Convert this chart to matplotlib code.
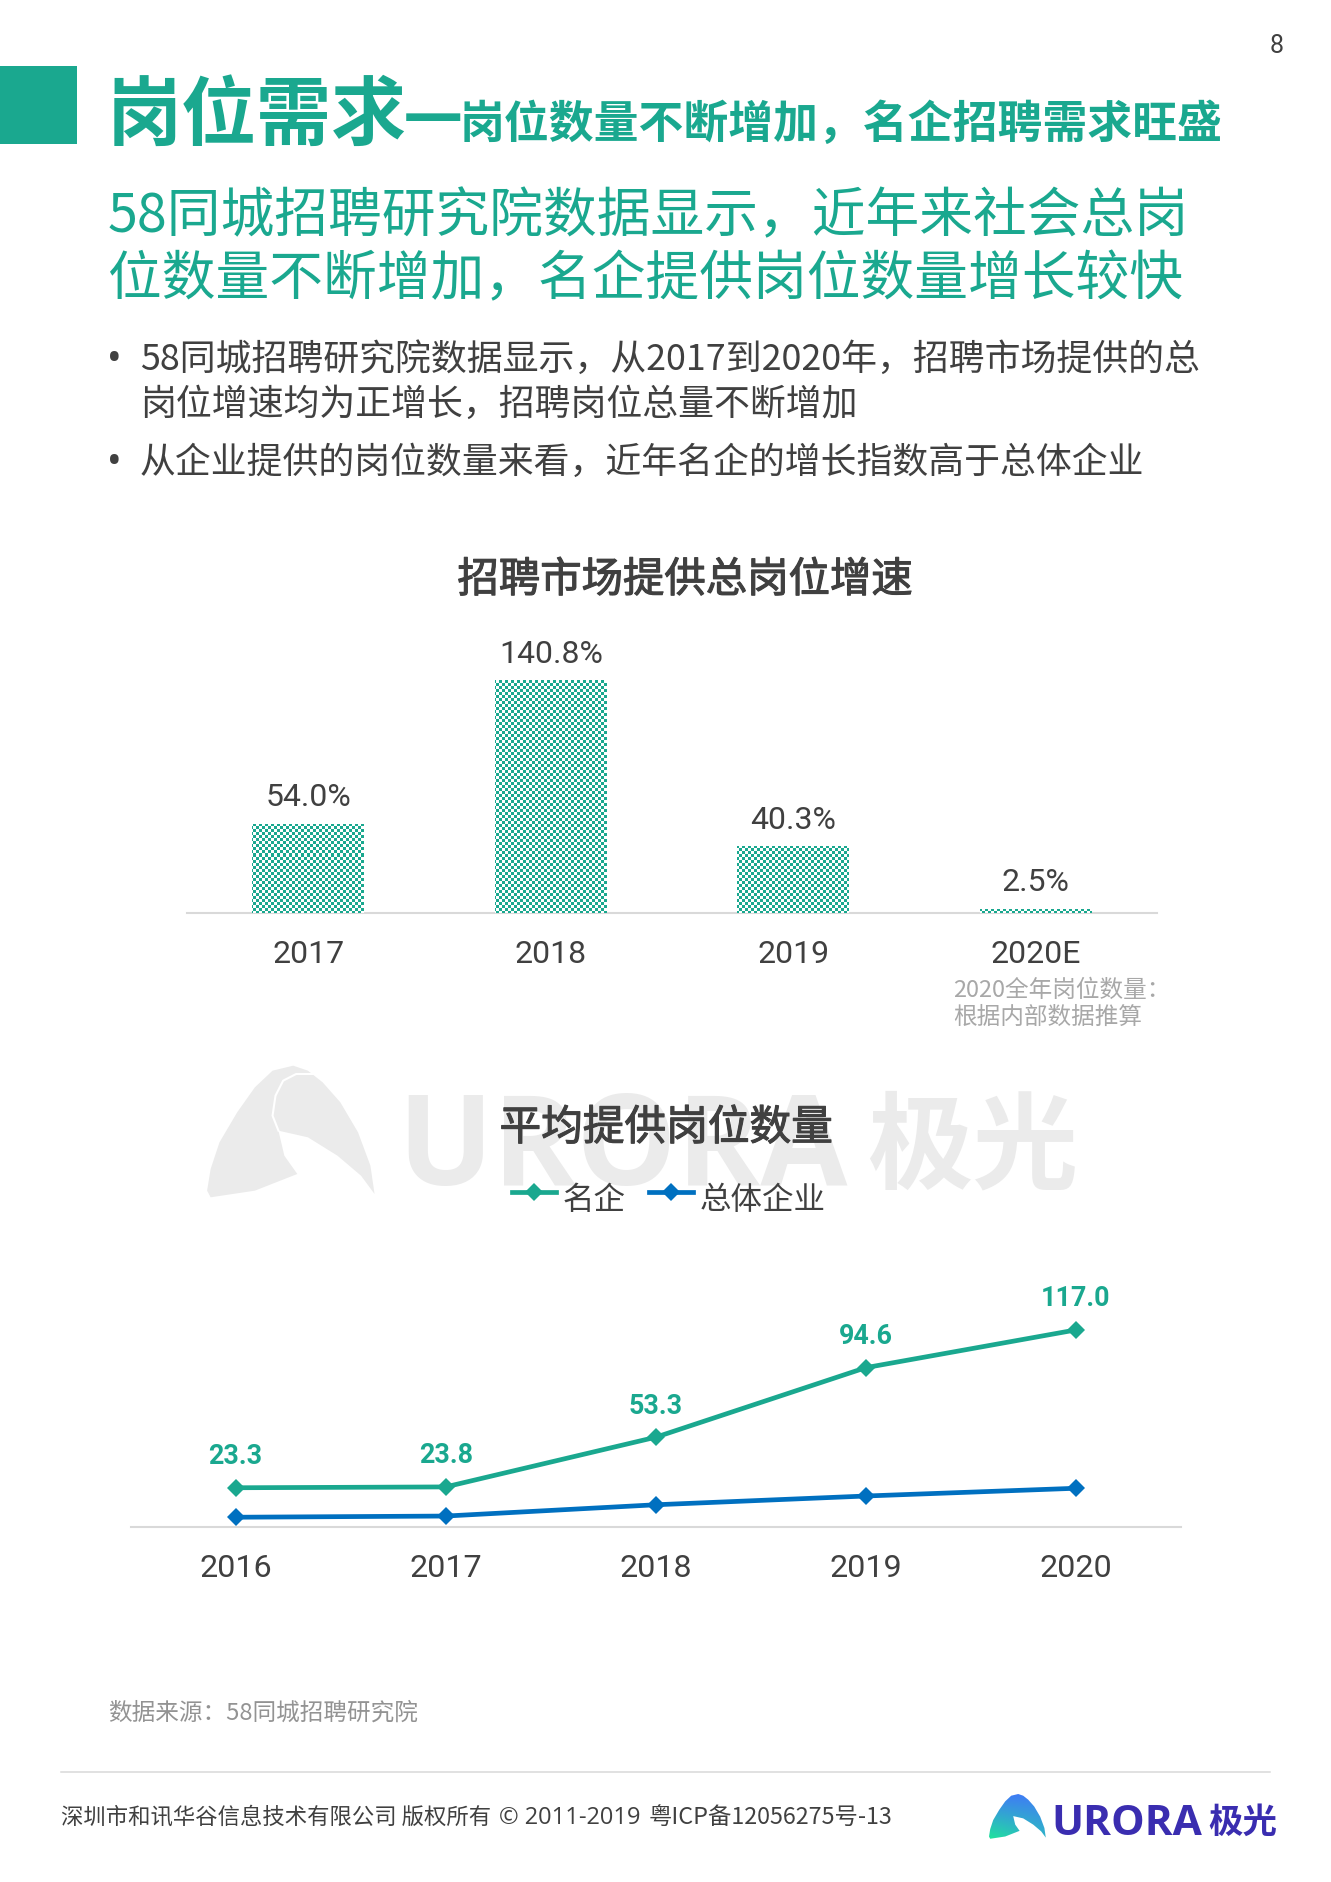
import numpy as np
import matplotlib
matplotlib.use("Agg")
import matplotlib.pyplot as plt
import matplotlib.patheffects as pe
from matplotlib.patches import Polygon, Rectangle
from matplotlib.colors import LinearSegmentedColormap
from matplotlib.legend_handler import HandlerLine2D

# ---- data ----
growth_years = ["2017", "2018", "2019", "2020E"]
growth_values = [54.0, 140.8, 40.3, 2.5]
line_years = ["2016", "2017", "2018", "2019", "2020"]
famous_values = [23.3, 23.8, 53.3, 94.6, 117.0]
overall_values = [5.8, 6.5, 13.2, 18.4, 23.0]
series_names = ["名企", "总体企业"]

GREEN = "#1AA88F"
BLUE = "#0070C0"
DARK = "#404040"
AXIS = "#D9D9D9"
CJK = ["Noto Sans CJK SC", "DejaVu Sans"]
NUM = ["Roboto", "DejaVu Sans"]

W, H = 1331, 1883
fig = plt.figure(figsize=(W / 100, H / 100), dpi=100, facecolor="white")

# full-page layer in pixel coordinates
bg = fig.add_axes([0, 0, 1, 1], zorder=0)
bg.set_xlim(0, W)
bg.set_ylim(H, 0)
bg.axis("off")
bg.set_autoscale_on(False)


def T(x, y, s, size, color=DARK, weight="normal", ha="left", family=CJK, zorder=5, **kw):
    return bg.text(x, y, s, fontsize=size, color=color, fontweight=weight, ha=ha,
                   va="baseline", family=family, zorder=zorder, **kw)


def px_axes(left, right, top, bottom):
    return fig.add_axes([left / W, 1 - bottom / H, (right - left) / W, (bottom - top) / H],
                        zorder=2, facecolor="none")


medium = [pe.withStroke(linewidth=0.8, foreground=DARK)]

# ---- header ----
bg.add_patch(Rectangle((0, 67), 77, 78, color=GREEN, lw=0))
T(1276.5, 53, "8", 18, ha="center", family=NUM)
T(106.5, 138.5, "岗位需求", 54, GREEN, "bold")
T(432.5, 140, "一", 42, GREEN, "bold", ha="center")
T(460, 138, "岗位数量不断增加，名企招聘需求旺盛", 32.3, GREEN, "bold")
T(107.6, 232, "58同城招聘研究院数据显示，近年来社会总岗", 38.7, GREEN)
T(107.6, 295, "位数量不断增加，名企提供岗位数量增长较快", 38.7, GREEN)
T(140, 370, "58同城招聘研究院数据显示，从2017到2020年，招聘市场提供的总", 25.85)
T(140, 415, "岗位增速均为正增长，招聘岗位总量不断增加", 25.85)
T(140, 473, "从企业提供的岗位数量来看，近年名企的增长指数高于总体企业", 25.8)
for yy in (370, 473):
    T(114, yy, "•", 28, ha="center", family=["Noto Sans"])

# ---- watermark ----
def logo_pts(x0, y0, sx, sy):
    raw = [(35, 415), (110, 395), (182, 345), (160, 290), (150, 215), (200, 235), (250, 290),
           (290, 350), (313, 405), (306, 320), (285, 220), (255, 130), (225, 70), (200, 35),
           (175, 20), (140, 35), (110, 85), (80, 160), (50, 250), (35, 330), (29, 395)]
    return [(x0 + a * sx, y0 + b * sy) for a, b in raw]


WM = "#EBEBEB"
bg.add_patch(Polygon(logo_pts(190, 1060, 1 / 1.696, 1 / 3), closed=True, color=WM, lw=0, zorder=1))
arc = [(210, 45), (180, 45), (158, 65), (145, 110), (140, 170), (150, 215)]
bg.plot([190 + a / 1.696 for a, b in arc], [1060 + b / 3 for a, b in arc], color="white", lw=1.5, zorder=1.5)
T(397, 1185, "URORA", 91, WM, "bold", family=["Open Sans"], zorder=1)
T(867, 1180, "极光", 76, WM, "bold", zorder=1)

# ---- bar chart ----
T(685, 593, "招聘市场提供总岗位增速", 29.8, ha="center", path_effects=medium)
ax1 = px_axes(187, 1157, 600, 914)
xb = np.arange(len(growth_values))
bars = ax1.bar(xb, growth_values, width=0.46, color=GREEN, lw=0, zorder=2)
yy_px, xx_px = np.mgrid[0:314, 0:970]
cells = ((xx_px // 3 + yy_px // 3) % 2).astype(float)
texture = LinearSegmentedColormap.from_list("chk", ["white", GREEN])
for b in bars:
    im = ax1.imshow(cells, cmap=texture, vmin=0, vmax=1, extent=(-0.5, 3.5, 0, 190),
                    aspect="auto", interpolation="nearest", zorder=3)
    im.set_clip_path(b)
ax1.set_xlim(-0.5, 3.5)
ax1.set_ylim(0, 190)
ax1.set_xticks(xb, growth_years, fontsize=23, color=DARK, family=NUM)
ax1.set_yticks([])
ax1.tick_params(axis="x", length=0, pad=18.5)
for s in ("top", "left", "right"):
    ax1.spines[s].set_visible(False)
ax1.spines["bottom"].set_color(AXIS)
ax1.spines["bottom"].set_linewidth(1.5)
for i, v in zip(xb, growth_values):
    ax1.annotate(f"{v:.1f}%", (i, v), xytext=(0, 13.4), textcoords="offset points",
                 ha="center", va="baseline", fontsize=23, color=DARK, family=NUM)
T(953, 997, "2020全年岗位数量：", 17, "#A8A8A8")
T(953, 1024, "根据内部数据推算", 17, "#A8A8A8")

# ---- line chart ----
T(666, 1141, "平均提供岗位数量", 30, ha="center", path_effects=medium)
ax2 = px_axes(130.5, 1181, 1228, 1528)
xl = np.arange(len(line_years))
ln1, = ax2.plot(xl, famous_values, color=GREEN, lw=3.4, marker="D", ms=9.5, mew=0, label=series_names[0], zorder=3)
ln2, = ax2.plot(xl, overall_values, color=BLUE, lw=3.4, marker="D", ms=9.5, mew=0, label=series_names[1], zorder=3)
ax2.set_xlim(-0.5, 4.5)
ax2.set_ylim(0, 178.1)
ax2.set_xticks(xl, line_years, fontsize=23.2, color=DARK, family=NUM)
ax2.set_yticks([])
ax2.tick_params(axis="x", length=0, pad=18.6)
for s in ("top", "left", "right"):
    ax2.spines[s].set_visible(False)
ax2.spines["bottom"].set_color(AXIS)
ax2.spines["bottom"].set_linewidth(1.5)
for i, v in zip(xl, famous_values):
    ax2.annotate(f"{v:.1f}", (i, v), xytext=(0, 17.6), textcoords="offset points",
                 ha="center", va="baseline", fontsize=19.4, color=GREEN, fontweight="bold", family=NUM)


class RaisedLine(HandlerLine2D):
    def create_artists(self, *args, **kwargs):
        artists = super().create_artists(*args, **kwargs)
        for a in artists:
            a.set_ydata(np.asarray(a.get_ydata()) + 3.6)
        return artists


leg = fig.legend(handles=[ln1, ln2], loc="center", bbox_to_anchor=(669 / W, 1 - 1200 / H),
                 ncol=2, frameon=False, handlelength=1.4, handletextpad=0.2, columnspacing=0.75,
                 prop={"family": CJK, "size": 22.7}, labelcolor=DARK, borderpad=0, borderaxespad=0,
                 handler_map={ln1: RaisedLine(), ln2: RaisedLine()})

# ---- footer ----
T(108, 1720, "数据来源：58同城招聘研究院", 17, "#939393")
bg.plot([61, 1270], [1773, 1773], color=AXIS, lw=1.1, zorder=1)
T(61, 1824, "深圳市和讯华谷信息技术有限公司 版权所有", 16.1)
T(499, 1824, "© 2011-2019", 17, family=["Open Sans"])
T(649, 1824, "粤ICP备12056275号-13", 16.8)

grad = np.zeros((40, 40, 3))
top_left = np.array([0x3F, 0x7C, 0xF5]) / 255
bottom_left = np.array([0x1F, 0xE3, 0x9C]) / 255
right = np.array([0x2F, 0xB5, 0xC8]) / 255
for r in range(40):
    for c in range(40):
        u, v = c / 39, r / 39
        grad[r, c] = (1 - v) * top_left + v * ((1 - u) * bottom_left + u * right)
logo_img = bg.imshow(grad, extent=(989, 1046, 1840, 1795), aspect="auto", zorder=3, interpolation="bilinear")
sc_x, sc_y = (1046 - 989) / 285, (1840 - 1795) / 397
clip = Polygon([(989 - 29 * sc_x + a * sc_x, 1795 - 20 * sc_y + b * sc_y)
                for a, b in [((p[0] - 190) * 1.696, (p[1] - 1060) * 3) for p in logo_pts(190, 1060, 1 / 1.696, 1 / 3)]],
               closed=True, transform=bg.transData, fc="none", lw=0)
bg.add_patch(clip)
logo_img.set_clip_path(clip)
bg.set_xlim(0, W)
bg.set_ylim(H, 0)
T(1051, 1835, "URORA", 30.5, "#3A2DB0", "bold", family=["Open Sans"])
T(1208, 1833, "极光", 24.8, "#3A2DB0", "bold")

fig.savefig("out.png", dpi=100, facecolor="white")
